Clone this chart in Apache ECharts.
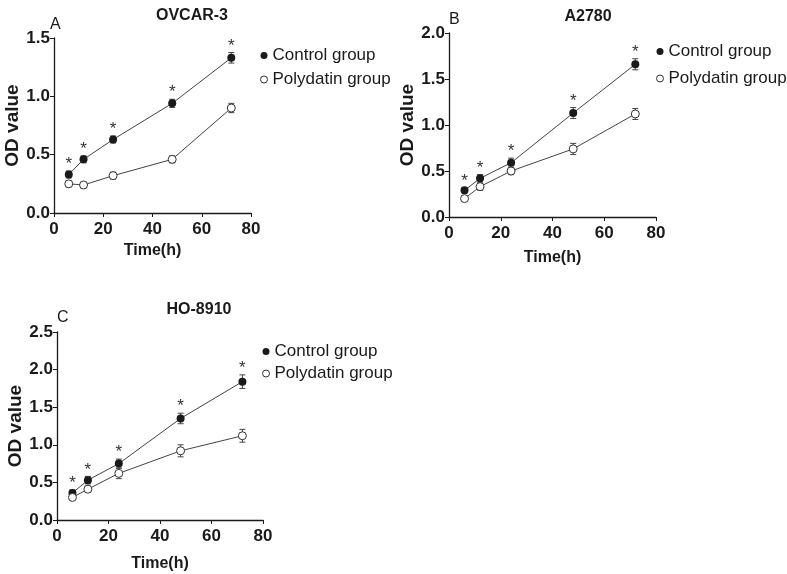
<!DOCTYPE html>
<html>
<head>
<meta charset="utf-8">
<script src="https://cdn.jsdelivr.net/npm/echarts@6/dist/echarts.min.js"></script>
<style>
    html, body { margin: 0; padding: 0; background: #fff; }
    #chart { width: 787px; height: 574px; }
</style>
</head>
<body>
<div id="chart"></div>
<script>
// time points (h)
const times = [6, 12, 24, 48, 72];

// OVCAR-3
const ovcarControl = [0.33, 0.46, 0.63, 0.94, 1.33];
const ovcarControlErr = [0.03, 0.03, 0.03, 0.035, 0.045];
const ovcarPoly = [0.25, 0.24, 0.32, 0.46, 0.90];
const ovcarPolyErr = [0.025, 0.025, 0.03, 0.03, 0.04];

// A2780
const a2780Control = [0.29, 0.42, 0.59, 1.13, 1.66];
const a2780ControlErr = [0.03, 0.04, 0.05, 0.06, 0.06];
const a2780Poly = [0.20, 0.33, 0.50, 0.74, 1.12];
const a2780PolyErr = [0.03, 0.04, 0.04, 0.06, 0.06];

// HO-8910
const hoControl = [0.36, 0.53, 0.75, 1.35, 1.84];
const hoControlErr = [0.04, 0.05, 0.06, 0.07, 0.09];
const hoPoly = [0.30, 0.41, 0.62, 0.92, 1.12];
const hoPolyErr = [0.03, 0.04, 0.07, 0.08, 0.085];

const panels = [
    {title: 'OVCAR-3', tag: 'A', yMax: 1.5, control: ovcarControl, controlErr: ovcarControlErr, poly: ovcarPoly, polyErr: ovcarPolyErr},
    {title: 'A2780', tag: 'B', yMax: 2.0, control: a2780Control, controlErr: a2780ControlErr, poly: a2780Poly, polyErr: a2780PolyErr},
    {title: 'HO-8910', tag: 'C', yMax: 2.5, control: hoControl, controlErr: hoControlErr, poly: hoPoly, polyErr: hoPolyErr},
];

// pixel layout of each panel
const layout = [
    {left: 54, top: 38, width: 197, height: 175, titleX: 192, titleY: 8, tagX: 50, tagY: 17,
        legendX: 255, legendY: 42, legendGap: 7, xNameGap: 30},
    {left: 449, top: 33, width: 207, height: 184, titleX: 588, titleY: 9, tagX: 449, tagY: 12,
        legendX: 651, legendY: 38, legendGap: 10, xNameGap: 33},
    {left: 57, top: 332, width: 206, height: 188, titleX: 199, titleY: 302, tagX: 57, tagY: 310,
        legendX: 257, legendY: 338, legendGap: 5, xNameGap: 36},
];

const FONT = '"Liberation Sans", Arial, sans-serif';
const INK = '#1a1a1a';

const chart = echarts.init(document.getElementById('chart'), null, {renderer: 'canvas'});

const pairs = arr => times.map((t, i) => [t, arr[i]]);
const triples = (vals, errs) => times.map((t, i) => [t, vals[i], errs[i]]);

function errorBar(params, api) {
    const x = api.value(0), y = api.value(1), e = api.value(2);
    const top = api.coord([x, y + e]);
    const bot = api.coord([x, y - e]);
    const w = 3;
    const style = {stroke: '#444', lineWidth: 1};
    return {
        type: 'group',
        children: [
            {type: 'line', shape: {x1: top[0], y1: top[1], x2: bot[0], y2: bot[1]}, style},
            {type: 'line', shape: {x1: top[0] - w, y1: top[1], x2: top[0] + w, y2: top[1]}, style},
            {type: 'line', shape: {x1: bot[0] - w, y1: bot[1], x2: bot[0] + w, y2: bot[1]}, style},
        ]
    };
}

function star(params, api) {
    const x = api.value(0), y = api.value(1), e = api.value(2);
    const p = api.coord([x, y + e]);
    return {
        type: 'text',
        x: p[0], y: p[1] + 2,
        style: {text: '*', fill: '#333', font: '17px ' + FONT, textAlign: 'center', textVerticalAlign: 'bottom'}
    };
}

const grid = [], xAxis = [], yAxis = [], series = [], title = [], legend = [];

panels.forEach((p, k) => {
    const L = layout[k];
    grid.push({left: L.left, top: L.top, width: L.width, height: L.height, containLabel: false});
    xAxis.push({
        type: 'value', gridIndex: k, min: 0, max: 80, interval: 20,
        name: 'Time(h)', nameLocation: 'middle', nameGap: L.xNameGap,
        nameTextStyle: {fontFamily: FONT, fontWeight: 'bold', fontSize: 16, color: INK},
        axisLine: {onZero: false, lineStyle: {color: INK, width: 1.3}},
        axisTick: {show: true, length: 4, lineStyle: {color: INK}},
        axisLabel: {fontFamily: FONT, fontWeight: 'bold', fontSize: 17, color: INK, margin: 8},
        splitLine: {show: false}
    });
    yAxis.push({
        type: 'value', gridIndex: k, min: 0, max: p.yMax, interval: 0.5,
        name: 'OD value', nameLocation: 'middle', nameGap: 29, nameRotate: 90,
        nameTextStyle: {fontFamily: FONT, fontWeight: 'bold', fontSize: 19, color: INK},
        axisLine: {show: true, lineStyle: {color: INK, width: 1.3}},
        axisTick: {show: true, length: 4, lineStyle: {color: INK}},
        axisLabel: {fontFamily: FONT, fontWeight: 'bold', fontSize: 17, color: INK, margin: 4,
            formatter: v => v.toFixed(1)},
        splitLine: {show: false}
    });
    title.push({
        text: p.title, left: L.titleX, top: L.titleY, textAlign: 'center', padding: 0,
        textStyle: {fontFamily: FONT, fontWeight: 'bold', fontSize: 16, color: INK}
    });
    title.push({
        text: p.tag, left: L.tagX, top: L.tagY, padding: 0,
        textStyle: {fontFamily: FONT, fontWeight: 'normal', fontSize: 16, color: INK}
    });
    legend.push({
        left: L.legendX, top: L.legendY, orient: 'vertical', itemGap: L.legendGap,
        itemWidth: 7, itemHeight: 7,
        textStyle: {fontFamily: FONT, fontSize: 17, color: INK},
        selectedMode: false,
        data: [
            {name: 'Control group', icon: 'circle', itemStyle: {color: INK, borderWidth: 0}},
            {name: 'Polydatin group', icon: 'circle', itemStyle: {color: '#fff', borderColor: '#333', borderWidth: 1}}
        ]
    });

    series.push({
        type: 'custom', name: 'err-c' + k, xAxisIndex: k, yAxisIndex: k, z: 1,
        renderItem: errorBar, data: triples(p.control, p.controlErr), silent: true
    });
    series.push({
        type: 'custom', name: 'err-p' + k, xAxisIndex: k, yAxisIndex: k, z: 1,
        renderItem: errorBar, data: triples(p.poly, p.polyErr), silent: true
    });
    series.push({
        type: 'line', name: 'Control group', xAxisIndex: k, yAxisIndex: k, z: 3,
        data: pairs(p.control), symbol: 'circle', symbolSize: 8,
        lineStyle: {color: '#444', width: 1}, itemStyle: {color: INK},
        animation: false
    });
    series.push({
        type: 'line', name: 'Polydatin group', xAxisIndex: k, yAxisIndex: k, z: 3,
        data: pairs(p.poly), symbol: 'circle', symbolSize: 8,
        lineStyle: {color: '#444', width: 1},
        itemStyle: {color: '#fff', borderColor: '#333', borderWidth: 1},
        animation: false
    });
    series.push({
        type: 'custom', name: 'star' + k, xAxisIndex: k, yAxisIndex: k, z: 4,
        renderItem: star, data: triples(p.control, p.controlErr), silent: true
    });
});

chart.setOption({
    backgroundColor: '#fff',
    animation: false,
    title, legend, grid, xAxis, yAxis, series
});
</script>
</body>
</html>
